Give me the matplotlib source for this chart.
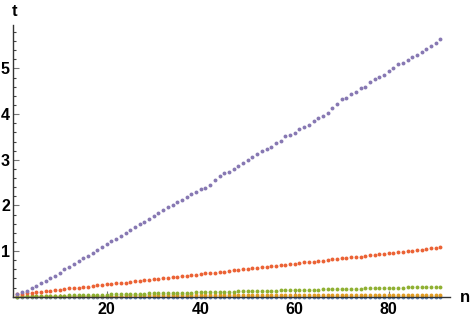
import matplotlib
matplotlib.use('Agg')
import matplotlib.pyplot as plt
from matplotlib import ticker

# data, n = 1..91
n = list(range(1, 92))

blue = [0.000] * 91

orange = [0.010, 0.012, 0.014, 0.015, 0.016, 0.017, 0.018, 0.019, 0.020, 0.020,
          0.021, 0.021, 0.022, 0.022, 0.023, 0.023, 0.024, 0.024, 0.025, 0.025,
          0.026, 0.026, 0.026, 0.027, 0.027, 0.027, 0.028, 0.028, 0.028, 0.029,
          0.029, 0.029, 0.030, 0.030, 0.030, 0.030, 0.031, 0.031, 0.031, 0.031,
          0.032, 0.032, 0.032, 0.032, 0.033, 0.033, 0.033, 0.033, 0.034, 0.034,
          0.034, 0.034, 0.035, 0.035, 0.035, 0.035, 0.035, 0.036, 0.036, 0.036,
          0.036, 0.037, 0.037, 0.037, 0.037, 0.037, 0.038, 0.038, 0.038, 0.038,
          0.038, 0.039, 0.039, 0.039, 0.039, 0.039, 0.040, 0.040, 0.040, 0.040,
          0.040, 0.041, 0.041, 0.041, 0.041, 0.041, 0.042, 0.042, 0.042, 0.042,
          0.043]

green = [0.003, 0.005, 0.008, 0.010, 0.012, 0.015, 0.017, 0.019, 0.022, 0.024,
         0.026, 0.029, 0.031, 0.034, 0.036, 0.038, 0.041, 0.043, 0.046, 0.048,
         0.050, 0.053, 0.055, 0.058, 0.060, 0.062, 0.065, 0.067, 0.070, 0.072,
         0.074, 0.077, 0.079, 0.082, 0.084, 0.086, 0.089, 0.091, 0.094, 0.096,
         0.098, 0.101, 0.103, 0.106, 0.108, 0.110, 0.113, 0.115, 0.118, 0.120,
         0.122, 0.125, 0.127, 0.130, 0.132, 0.134, 0.137, 0.139, 0.142, 0.144,
         0.146, 0.149, 0.151, 0.154, 0.156, 0.158, 0.161, 0.163, 0.166, 0.168,
         0.170, 0.173, 0.175, 0.178, 0.180, 0.182, 0.185, 0.187, 0.190, 0.192,
         0.194, 0.197, 0.199, 0.202, 0.204, 0.206, 0.209, 0.211, 0.214, 0.216,
         0.218]

red = [0.05, 0.06, 0.07, 0.09, 0.10, 0.11, 0.12, 0.13, 0.14, 0.15,
       0.17, 0.18, 0.19, 0.20, 0.21, 0.22, 0.23, 0.25, 0.26, 0.27,
       0.28, 0.29, 0.30, 0.31, 0.33, 0.34, 0.35, 0.36, 0.37, 0.38,
       0.39, 0.40, 0.42, 0.43, 0.44, 0.45, 0.46, 0.47, 0.48, 0.50,
       0.51, 0.52, 0.53, 0.54, 0.55, 0.56, 0.58, 0.59, 0.60, 0.61,
       0.62, 0.63, 0.64, 0.66, 0.67, 0.68, 0.69, 0.70, 0.71, 0.72,
       0.74, 0.75, 0.76, 0.77, 0.78, 0.79, 0.80, 0.82, 0.83, 0.84,
       0.85, 0.86, 0.87, 0.88, 0.90, 0.91, 0.92, 0.93, 0.94, 0.95,
       0.96, 0.98, 0.99, 1.00, 1.01, 1.02, 1.03, 1.04, 1.06, 1.07,
       1.08]

purple = [0.06, 0.10, 0.13, 0.18, 0.23, 0.29, 0.35, 0.40, 0.46, 0.52,
          0.60, 0.66, 0.72, 0.78, 0.84, 0.90, 0.96, 1.02, 1.09, 1.16,
          1.21, 1.27, 1.34, 1.39, 1.46, 1.53, 1.59, 1.64, 1.70, 1.77,
          1.84, 1.90, 1.96, 2.01, 2.07, 2.12, 2.18, 2.24, 2.30, 2.36,
          2.39, 2.45, 2.55, 2.64, 2.71, 2.74, 2.79, 2.86, 2.92, 2.99,
          3.05, 3.12, 3.20, 3.23, 3.28, 3.37, 3.42, 3.51, 3.55, 3.59,
          3.67, 3.71, 3.77, 3.84, 3.92, 3.96, 4.02, 4.14, 4.22, 4.33,
          4.36, 4.45, 4.48, 4.58, 4.60, 4.70, 4.77, 4.81, 4.86, 4.94,
          5.00, 5.09, 5.12, 5.19, 5.25, 5.30, 5.37, 5.43, 5.49, 5.56,
          5.64]

series = [blue, orange, green, red, purple]
colors = ['#5E81B5', '#E19C24', '#8FB032', '#EB6235', '#8778B3']

plt.rcParams['font.family'] = ['Liberation Sans', 'DejaVu Sans']

fig = plt.figure(figsize=(4.71, 3.18), dpi=100)
ax = fig.add_axes([0.027, 0.067, 0.928, 0.854])

for ys, c in zip(series, colors):
    ax.plot(n, ys, 'o', color=c, markersize=2.8, markeredgewidth=0, clip_on=False)

ax.set_xlim(0, 93)
ax.set_ylim(0, 5.95)

for side in ['top', 'right']:
    ax.spines[side].set_visible(False)
for side in ['left', 'bottom']:
    ax.spines[side].set_color('#333333')
    ax.spines[side].set_linewidth(1.0)

ax.xaxis.set_major_locator(ticker.FixedLocator([20, 40, 60, 80]))
ax.xaxis.set_minor_locator(ticker.MultipleLocator(5))
ax.yaxis.set_major_locator(ticker.FixedLocator([1, 2, 3, 4, 5]))
ax.yaxis.set_minor_locator(ticker.MultipleLocator(0.2))

ax.tick_params(which='major', direction='in', length=4.5, width=0.8, color='#777777',
               labelsize=11.5, pad=2)
ax.tick_params(which='minor', direction='in', length=2.5, width=0.8, color='#444444')
ax.tick_params(axis='x', which='major', pad=4)
for lab in ax.get_xticklabels() + ax.get_yticklabels():
    lab.set_fontweight('bold')

# axis labels at the ends of the axes
fig.text(15 / 471, 1 - 11 / 318, 't', ha='center', va='center', fontsize=12, fontweight='bold')
fig.text(465 / 471, 1 - 297 / 318, 'n', ha='center', va='center', fontsize=12, fontweight='bold')

fig.savefig('out.png', dpi=100)
